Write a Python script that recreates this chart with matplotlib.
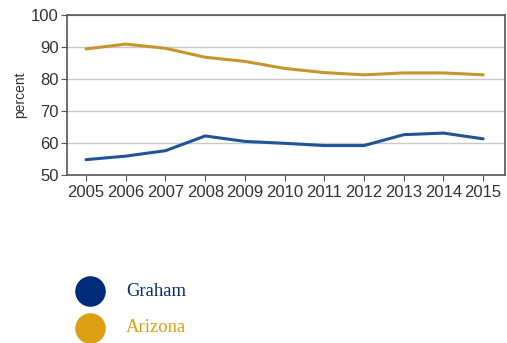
import matplotlib.pyplot as plt
from matplotlib.lines import Line2D

years = [2005, 2006, 2007, 2008, 2009, 2010, 2011, 2012, 2013, 2014, 2015]
graham = [54.8, 55.9, 57.6, 62.2, 60.5, 59.9, 59.2, 59.2, 62.6, 63.1, 61.3]
arizona = [89.4, 90.9, 89.6, 86.8, 85.5, 83.3, 82.0, 81.3, 81.9, 81.9, 81.3]

plt.rcParams["font.family"] = ["Liberation Sans", "DejaVu Sans"]

fig = plt.figure(figsize=(5.07, 3.43), dpi=100)
ax = fig.add_axes([67 / 507, 168 / 343, 438 / 507, 160 / 343])

ax.plot(years, arizona, color="#c9952a", lw=2.2, solid_capstyle="round")
ax.plot(years, graham, color="#1f5597", lw=2.2, solid_capstyle="round")

ax.set_xlim(2004.52, 2015.55)
ax.set_ylim(50, 100)
ax.set_xticks(years)
ax.set_yticks(range(50, 101, 10))
ax.tick_params(axis="both", colors="#555555", labelcolor="#333333",
               labelsize=12, length=4, direction="out")
ax.tick_params(axis="y", pad=2)
ax.tick_params(axis="x", pad=3)
ax.set_ylabel("percent", fontsize=10, color="#333333", labelpad=3)
ax.grid(axis="y", color="#c8c8c8", lw=1)
for s in ax.spines.values():
    s.set_color("#555555")
    s.set_linewidth(1.2)

# legend below the chart
for y, label, col in [(291, "Graham", "#002a7a"), (328, "Arizona", "#dc9f14")]:
    fig.add_artist(Line2D([90 / 507], [1 - y / 343], marker="o", markersize=22,
                          color=col, markeredgewidth=0, transform=fig.transFigure))
    fig.text(126 / 507, 1 - y / 343, label, color=col, fontsize=13.4,
             family="Liberation Serif", va="center", ha="left")

fig.savefig("out.png", dpi=100)
